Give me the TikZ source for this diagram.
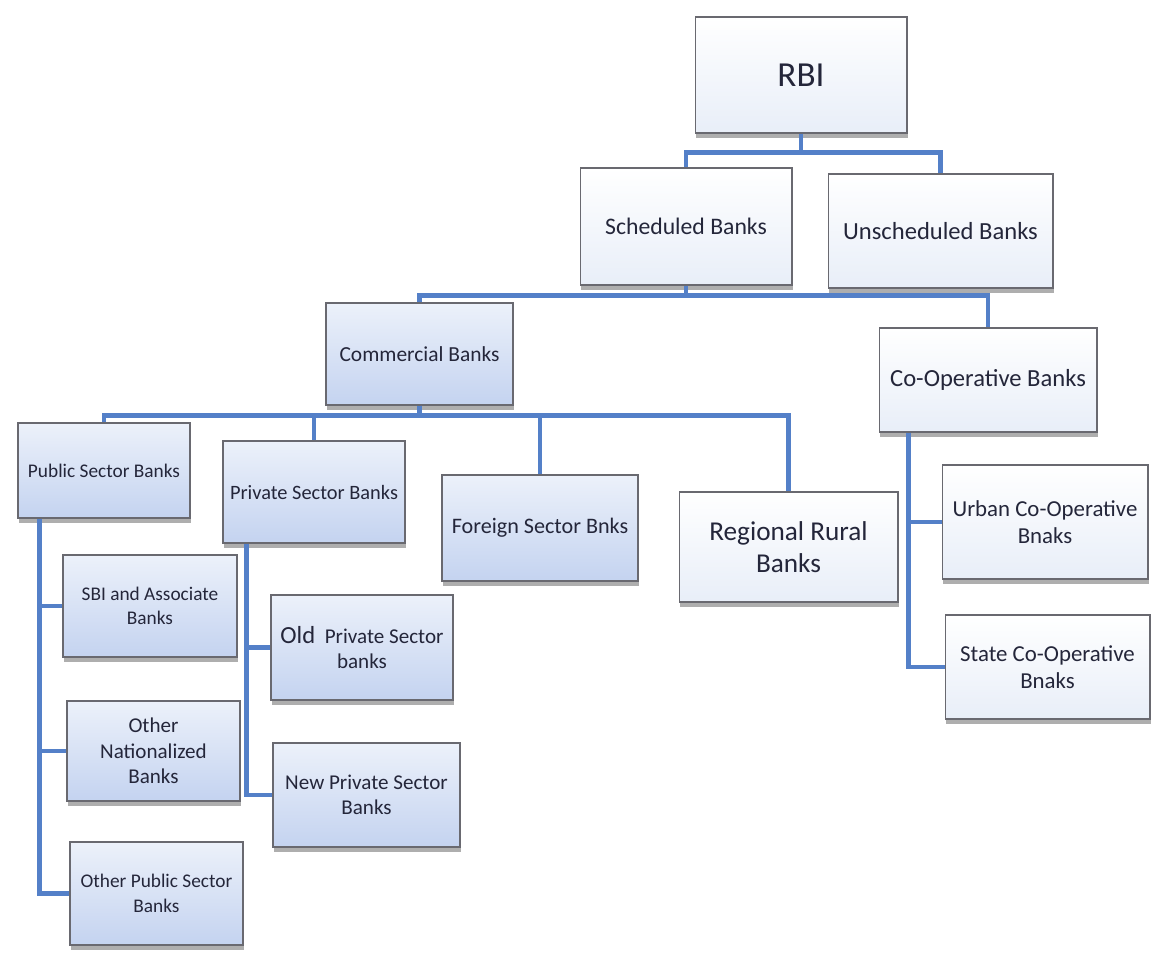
\documentclass[tikz,border=0pt]{standalone}
\usepackage{fontspec}
\setmainfont{Carlito}
\usetikzlibrary{shadows}
\definecolor{linkblue}{RGB}{84,128,200}
\definecolor{boxtop}{RGB}{236,241,250}
\definecolor{boxbot}{RGB}{196,211,240}
\definecolor{palebot}{RGB}{232,238,248}
\definecolor{inkc}{RGB}{36,38,58}
\definecolor{edgec}{RGB}{105,105,112}
\newcommand{\setfs}[2]{\fontsize{#1}{#2}\selectfont}
\begin{document}
\begin{tikzpicture}[x=0.02cm, y=-0.02cm,
  bank/.style={draw=edgec, line width=0.6pt, top color=boxtop, bottom color=boxbot, text=inkc, align=center, inner sep=2pt,
    drop shadow={shadow xshift=0.6pt, shadow yshift=-2.6pt, fill=black!70, opacity=0.45}},
  palebank/.style={bank, top color=white, bottom color=palebot},
  link/.style={draw=linkblue, line width=2.3pt}]
\fill[white, use as bounding box] (0,0) rectangle (1153,966);
\node[palebank, minimum width=4.24cm, minimum height=2.32cm, font=\setfs{20}{24}] (rbi) at (801,75) {RBI};
\node[palebank, minimum width=4.24cm, minimum height=2.34cm, font=\setfs{13.5}{16}] (sch) at (686,226.5) {Scheduled Banks};
\node[palebank, minimum width=4.5cm, minimum height=2.28cm, font=\setfs{14}{17}] (unsch) at (940.5,231) {Unscheduled Banks};
\draw[link] (rbi.south) -- ++(0,19) -| (sch.north);
\draw[link] (rbi.south) -- ++(0,19) -| (unsch.north);
\node[bank, minimum width=3.74cm, minimum height=2.04cm, font=\setfs{12.2}{15}] (com) at (419.5,354) {Commercial Banks};
\node[palebank, minimum width=4.36cm, minimum height=2.08cm, font=\setfs{14}{17}] (coop) at (988,380) {Co-Operative Banks};
\draw[link] (sch.south) -- ++(0,10) -| (com.north);
\draw[link] (sch.south) -- ++(0,10) -| (coop.north);
\node[bank, minimum width=3.44cm, minimum height=1.9cm, font=\setfs{11}{13.5}] (pub) at (104,470.5) {Public Sector Banks};
\node[bank, minimum width=3.64cm, minimum height=2.04cm, font=\setfs{11.6}{14}] (pvt) at (314,492) {Private Sector Banks};
\node[bank, minimum width=3.92cm, minimum height=2.12cm, font=\setfs{12.6}{15}] (fsb) at (540,528) {Foreign Sector Bnks};
\node[palebank, minimum width=4.38cm, minimum height=2.2cm, font=\setfs{15.5}{18.5}] (rrb) at (788.5,547) {Regional Rural\\Banks};
\draw[link] (com.south) -- ++(0,10) -| (pub.north);
\draw[link] (com.south) -- ++(0,10) -| (pvt.north);
\draw[link] (com.south) -- ++(0,10) -| (fsb.north);
\draw[link] (com.south) -- ++(0,10) -| (rrb.north);
\node[bank, minimum width=3.48cm, minimum height=2.04cm, font=\setfs{11}{14}] (sbi) at (150,606) {SBI and Associate\\Banks};
\node[bank, minimum width=3.46cm, minimum height=2cm, font=\setfs{12}{14.5}] (onb) at (153.5,751) {Other\\Nationalized\\Banks};
\node[bank, minimum width=3.46cm, minimum height=2.06cm, font=\setfs{11}{14}] (opsb) at (156.5,893.5) {Other Public Sector\\Banks};
\coordinate (pubv) at ([xshift=0.44cm]pub.south west);
\draw[link] (pubv) |- (sbi.west);
\draw[link] (pubv) |- (onb.west);
\draw[link] (pubv) |- (opsb.west);
\node[bank, minimum width=3.64cm, minimum height=2.1cm, font=\setfs{12}{14.5}] (old) at (362,647.5) {{\setfs{14}{17}Old}\ \ Private Sector\\banks};
\node[bank, minimum width=3.74cm, minimum height=2.08cm, font=\setfs{12}{14.5}] (new) at (366.5,795) {New Private Sector\\Banks};
\coordinate (pvtv) at ([xshift=0.48cm]pvt.south west);
\draw[link] (pvtv) |- (old.west);
\draw[link] (pvtv) |- (new.west);
\node[palebank, minimum width=4.12cm, minimum height=2.28cm, font=\setfs{13}{15.5}] (urb) at (1045,522) {Urban Co-Operative\\Bnaks};
\node[palebank, minimum width=4.1cm, minimum height=2.08cm, font=\setfs{13}{15.5}] (sta) at (1047.5,667) {State Co-Operative\\Bnaks};
\coordinate (coopv) at ([xshift=0.6cm]coop.south west);
\draw[link] (coopv) |- (urb.west);
\draw[link] (coopv) |- (sta.west);
\end{tikzpicture}
\end{document}
